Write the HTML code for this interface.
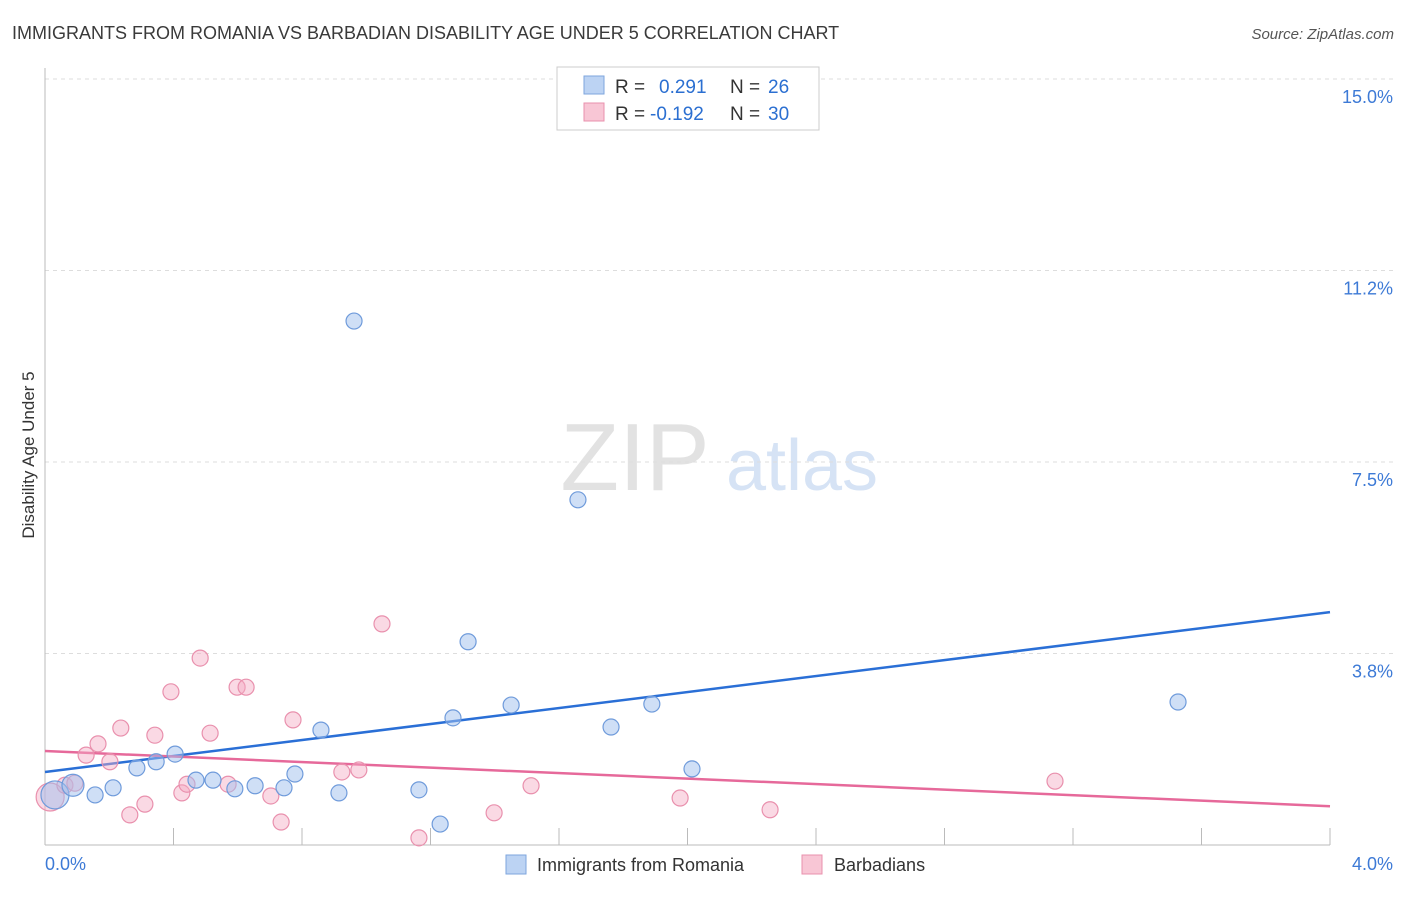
<!DOCTYPE html>
<html><head><meta charset="utf-8"><style>
body{margin:0;background:#fff;font-family:"Liberation Sans",sans-serif}
svg text{font-family:"Liberation Sans",sans-serif}
</style></head><body>
<svg id="chart" width="1406" height="892" xmlns="http://www.w3.org/2000/svg">
<text x="12" y="39" font-size="18" fill="#3a3a3a">IMMIGRANTS FROM ROMANIA VS BARBADIAN DISABILITY AGE UNDER 5 CORRELATION CHART</text>
<text x="1394" y="39" font-size="15" fill="#555" font-style="italic" text-anchor="end">Source: ZipAtlas.com</text>
<g>
<text x="635" y="490" font-size="96" font-family="Liberation Serif" fill="#e2e2e2" text-anchor="middle">ZIP</text>
<text x="802" y="490" font-size="72" fill="#d6e3f5" text-anchor="middle">atlas</text>
</g>
<g id="grid"></g>
<g id="axes"></g>
<text transform="translate(34,455) rotate(-90)" font-size="17" fill="#333" text-anchor="middle">Disability Age Under 5</text>
<g id="lines"></g>
<g id="pts"></g>
<g>
<rect x="557" y="67" width="262" height="63" fill="#fff" stroke="#ccc"/>
<rect x="584" y="76" width="20" height="18" fill="#bcd3f3" stroke="#7ea6de"/>
<text x="615" y="93" font-size="19" fill="#333">R = </text><text x="659" y="93" font-size="19" fill="#2b6fd1">0.291</text>
<text x="730" y="93" font-size="19" fill="#333">N = </text><text x="768" y="93" font-size="19" fill="#2b6fd1">26</text>
<rect x="584" y="103" width="20" height="18" fill="#f8c6d5" stroke="#e990ad"/>
<text x="615" y="120" font-size="19" fill="#333">R = </text><text x="650" y="120" font-size="19" fill="#2b6fd1">-0.192</text>
<text x="730" y="120" font-size="19" fill="#333">N = </text><text x="768" y="120" font-size="19" fill="#2b6fd1">30</text>
</g>
<g>
<rect x="506" y="855" width="20" height="19" fill="#bcd3f3" stroke="#7ea6de"/>
<text x="537" y="871" font-size="18" fill="#333">Immigrants from Romania</text>
<rect x="802" y="855" width="20" height="19" fill="#f8c6d5" stroke="#e990ad"/>
<text x="834" y="871" font-size="18" fill="#333">Barbadians</text>
</g>
</svg>
<script>
const yTicks=[3.75,7.5,11.25,15];
const yTickLabels=["3.8%","7.5%","11.2%","15.0%"];
const xTickLabels=["0.0%","4.0%"];
const blueX=[0.031,0.087,0.156,0.212,0.286,0.346,0.405,0.470,0.523,0.591,0.654,0.744,0.778,0.859,0.915,0.962,1.164,1.230,1.270,1.317,1.451,1.659,1.762,1.889,2.014,3.527];
const blueY=[0.98,1.17,0.98,1.12,1.51,1.63,1.78,1.27,1.27,1.10,1.16,1.12,1.39,2.25,1.02,10.26,1.08,0.41,2.49,3.98,2.74,6.76,2.31,2.76,1.49,2.80];
const pinkX=[0.016,0.062,0.093,0.128,0.165,0.202,0.236,0.264,0.311,0.342,0.392,0.426,0.442,0.483,0.514,0.570,0.598,0.626,0.703,0.735,0.772,0.924,0.977,1.049,1.164,1.398,1.513,1.977,2.257,3.144];
const pinkY=[0.94,1.17,1.21,1.76,1.98,1.63,2.29,0.59,0.80,2.15,3.00,1.02,1.19,3.66,2.19,1.19,3.09,3.09,0.96,0.45,2.45,1.43,1.47,4.33,0.14,0.63,1.16,0.92,0.69,1.25];
const blueTrend=[1.43,4.56];
const pinkTrend=[1.84,0.76];
const NS="http://www.w3.org/2000/svg";
const X=v=>45+v/4*1285, Y=v=>845-v/15*766;
function mk(t,a,p){const e=document.createElementNS(NS,t);for(const k in a)e.setAttribute(k,a[k]);p.appendChild(e);return e;}
const g=document.getElementById('grid'),ax=document.getElementById('axes');
yTicks.forEach((t,i)=>{
 const l=mk('line',{x1:45,x2:1395,y1:Y(t),y2:Y(t),stroke:'#ddd','stroke-dasharray':'4,4'},g);
 
 
 const tx=mk('text',{x:1393,y:Y(t)+24,'font-size':18,fill:'#3d7ad6','text-anchor':'end'},g);
 tx.textContent=yTickLabels[i];
 
 
});
mk('line',{x1:45,x2:45,y1:68,y2:845,stroke:'#bbb'},ax);
mk('line',{x1:45,x2:1330,y1:845,y2:845,stroke:'#bbb'},ax);
for(let i=1;i<=10;i++){const x=X(i*0.4);const t=mk('line',{x1:x,x2:x,y1:828,y2:845,stroke:'#bbb'},ax);
 
 }
[[0,'start',45],[4,'end',1393]].forEach((d,i)=>{const t=mk('text',{x:d[2],y:870,'font-size':18,fill:'#3d7ad6','text-anchor':d[1]},ax);t.textContent=xTickLabels[i];
 
 });
const L=document.getElementById('lines');
const bl=mk('line',{x1:X(0),y1:Y(blueTrend[0]),x2:X(4),y2:Y(blueTrend[1]),stroke:'#2a6fd6','stroke-width':2.5},L);


const pl=mk('line',{x1:X(0),y1:Y(pinkTrend[0]),x2:X(4),y2:Y(pinkTrend[1]),stroke:'#e6699a','stroke-width':2.5},L);


const P=document.getElementById('pts');
pinkX.forEach((x,i)=>{const c=mk('circle',{cx:X(x),cy:Y(pinkY[i]),r:i==0?14:8,fill:'rgba(244,170,195,0.45)',stroke:'#e990ad','stroke-width':1.2},P);
 
 });
blueX.forEach((x,i)=>{const c=mk('circle',{cx:X(x),cy:Y(blueY[i]),r:i==0?14:(i==1?11:8),fill:'rgba(160,192,238,0.5)',stroke:'#6f9bdb','stroke-width':1.2},P);
 
 });
</script>
</body></html>
